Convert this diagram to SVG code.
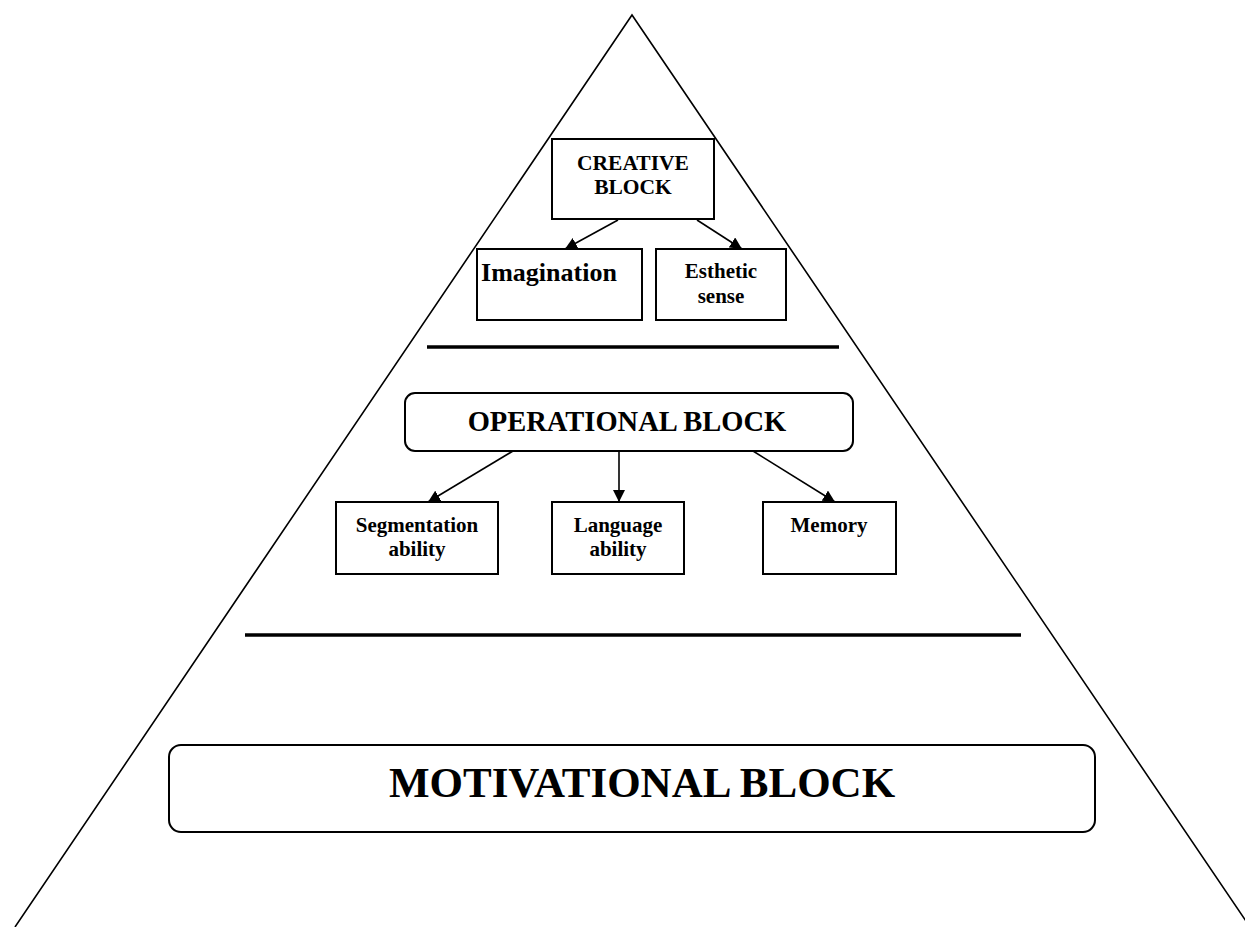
<svg xmlns="http://www.w3.org/2000/svg" width="1245" height="927" viewBox="0 0 1245 927">
<defs>
<marker id="ah" viewBox="0 0 12 12" refX="12" refY="6" markerWidth="12" markerHeight="12" markerUnits="userSpaceOnUse" orient="auto">
<path d="M0,0 L12,6 L0,12 Z" fill="#000"/>
</marker>
</defs>
<style>
.box{fill:#fff;stroke:#000;stroke-width:2}
.t{font-family:"Liberation Serif","Times New Roman",serif;font-weight:bold;fill:#000;text-anchor:middle}
.c{stroke:#000;stroke-width:1.6;fill:none;marker-end:url(#ah)}
.sep{stroke:#000;stroke-width:3.5}
</style>
<rect width="1245" height="927" fill="#fff"/>
<g id="pyramid">
<polyline points="15,927 632,15 1250,927" fill="none" stroke="#000" stroke-width="1.6"/>
<line class="sep" x1="427" y1="347" x2="839" y2="347"/>
<line class="sep" x1="245" y1="635" x2="1021" y2="635"/>
</g>
<g id="connectors">
<line class="c" x1="618" y1="220" x2="565" y2="249"/>
<line class="c" x1="697" y1="220" x2="742" y2="249"/>
<line class="c" x1="513" y1="451" x2="428" y2="502"/>
<line class="c" x1="619" y1="451" x2="619" y2="502"/>
<line class="c" x1="753" y1="451" x2="835" y2="502"/>
</g>
<g id="creative">
<rect class="box" x="552" y="139" width="162" height="80"/>
<text class="t" x="633" y="170" font-size="21.5">CREATIVE</text>
<text class="t" x="633" y="194" font-size="21.5">BLOCK</text>
</g>
<g id="imagination">
<rect class="box" x="477" y="249" width="165" height="71"/>
<text class="t" x="549" y="281" font-size="26">Imagination</text>
</g>
<g id="esthetic">
<rect class="box" x="656" y="249" width="130" height="71"/>
<text class="t" x="721" y="278" font-size="21">Esthetic</text>
<text class="t" x="721" y="303" font-size="21">sense</text>
</g>
<g id="operational">
<rect class="box" x="405" y="393" width="448" height="58" rx="10"/>
<text class="t" x="627" y="431" font-size="28.5">OPERATIONAL BLOCK</text>
</g>
<g id="segmentation">
<rect class="box" x="336" y="502" width="162" height="72"/>
<text class="t" x="417" y="532" font-size="21">Segmentation</text>
<text class="t" x="417" y="556" font-size="21">ability</text>
</g>
<g id="language">
<rect class="box" x="552" y="502" width="132" height="72"/>
<text class="t" x="618" y="532" font-size="21">Language</text>
<text class="t" x="618" y="556" font-size="21">ability</text>
</g>
<g id="memory">
<rect class="box" x="763" y="502" width="133" height="72"/>
<text class="t" x="829" y="532" font-size="21">Memory</text>
</g>
<g id="motivational">
<rect class="box" x="169" y="745" width="926" height="87" rx="12"/>
<text class="t" x="642" y="797" font-size="43">MOTIVATIONAL BLOCK</text>
</g>
</svg>
